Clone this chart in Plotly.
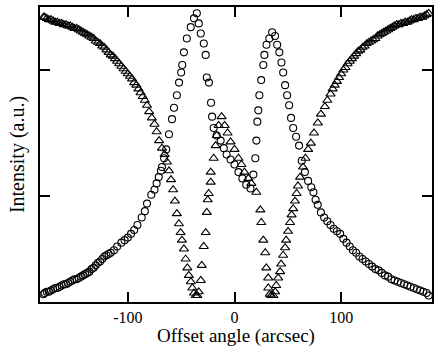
import plotly.graph_objects as go

# Circle series (offset angle in arcsec, intensity in a.u.)
circ_x = [-179, -178, -176, -174, -172, -170, -168, -166, -164, -162,
          -160, -158, -156, -154, -152, -150, -148, -146, -144, -142,
          -140, -138, -136, -134, -132, -130, -128, -126, -124, -122,
          -120, -118, -116, -113, -110, -106, -103, -100, -97, -94,
          -91, -87, -84, -82, -78, -75, -73, -71, -69, -68,
          -66, -64, -61.4, -58.6, -56.7, -54, -52, -50, -49, -47.4,
          -44.7, -41, -38, -35.3, -33.5, -31.6, -28.8, -27, -26, -24,
          -22, -21, -19.5, -16.7, -13, -10, -7.4, -3.7, 0, 3.7,
          7.4, 11, 15, 17.7, 19.5, 20.5, 21.4, 22.3, 23.3, 25,
          27, 28, 30, 32.6, 35.3, 38, 40, 42, 44, 45.6,
          47.4, 49.3, 51.2, 53, 55, 57.7, 60.5, 63, 66, 69,
          72, 74, 76, 78, 81, 84, 87, 90, 93, 96,
          99, 102, 105, 108, 111, 114, 117, 120, 123, 126,
          129, 132, 135, 138, 141, 144, 147, 150, 153, 156,
          159, 162, 165, 168, 171, 174, 177, 180, 182]
circ_y = [0.22, 0.23, 0.24, 0.24, 0.25, 0.26, 0.27, 0.27, 0.28, 0.29,
          0.30, 0.30, 0.31, 0.32, 0.33, 0.34, 0.34, 0.35, 0.36, 0.37,
          0.38, 0.39, 0.40, 0.42, 0.43, 0.45, 0.47, 0.48, 0.50, 0.52,
          0.53, 0.54, 0.55, 0.57, 0.60, 0.63, 0.65, 0.67, 0.70, 0.73,
          0.77, 0.83, 0.88, 0.94, 1.01, 1.05, 1.10, 1.15, 1.20, 1.23,
          1.30, 1.37, 1.49, 1.61, 1.70, 1.80, 1.90, 1.98, 2.04, 2.14,
          2.25, 2.34, 2.41, 2.45, 2.37, 2.29, 2.21, 2.12, 1.94, 1.90,
          1.74, 1.63, 1.54, 1.48, 1.44, 1.38, 1.33, 1.29, 1.25, 1.19,
          1.14, 1.09, 1.06, 1.17, 1.30, 1.44, 1.59, 1.68, 1.80, 1.92,
          2.04, 2.12, 2.20, 2.25, 2.30, 2.27, 2.20, 2.14, 2.06, 1.98,
          1.88, 1.80, 1.72, 1.62, 1.54, 1.47, 1.40, 1.28, 1.19, 1.12,
          1.07, 1.03, 0.97, 0.93, 0.87, 0.83, 0.80, 0.77, 0.74, 0.72,
          0.70, 0.66, 0.63, 0.60, 0.57, 0.55, 0.52, 0.50, 0.48, 0.46,
          0.44, 0.42, 0.41, 0.39, 0.37, 0.36, 0.34, 0.33, 0.32, 0.31,
          0.30, 0.29, 0.28, 0.27, 0.26, 0.25, 0.24, 0.23, 0.21]

# Triangle series
tri_x = [-179, -178, -176, -174, -172, -170, -168, -166, -164, -162,
         -160, -158, -156, -154, -152, -150, -148, -146, -144, -142,
         -140, -138, -136, -134, -132, -130, -128, -126, -124, -122,
         -120, -118, -116, -114, -112, -110, -108, -106, -104, -102,
         -100, -98, -96, -94, -92, -90, -88, -86, -84, -82,
         -80, -77.5, -75, -73, -70.7, -68, -65.5, -63.3, -61.4, -59.5,
         -57.5, -55.8, -54, -52.1, -50.5, -49.3, -47.4, -45.8, -44.2, -42.8,
         -40.9, -39.5, -38, -36.3, -34.8, -33.5, -31.6, -30.7, -28.8, -27,
         -26, -25.1, -24.2, -22.3, -22.3, -19.5, -17.7, -16.7, -14.9, -12.1,
         -9.3, -6.5, -3.7, 0, 3.7, 6.5, 9.3, 13, 15.8, 20.5,
         24.2, 25.1, 27, 28.8, 29.8, 31.6, 31.6, 33, 34.4, 36.5,
         38.1, 39.1, 40.9, 42.8, 43.7, 45.6, 47.4, 48.4, 50.2, 52.1,
         53.5, 55, 56.7, 58.2, 59.5, 61.5, 64.2, 66.5, 69, 71.6,
         74.5, 78.1, 81, 84.7, 87, 90, 92, 94, 96, 98,
         100, 102, 104, 106, 108, 110, 112, 114, 116, 118,
         120, 122, 124, 126, 128, 130, 132, 134, 136, 138,
         140, 142, 144, 146, 148, 150, 152, 154, 156, 158,
         160, 162, 164, 166, 168, 170, 172, 174, 176, 178,
         180, 182]
tri_y = [2.42, 2.42, 2.41, 2.40, 2.40, 2.39, 2.38, 2.38, 2.37, 2.37,
         2.36, 2.36, 2.35, 2.35, 2.34, 2.33, 2.33, 2.32, 2.31, 2.30,
         2.29, 2.28, 2.27, 2.26, 2.25, 2.23, 2.22, 2.21, 2.19, 2.18,
         2.16, 2.14, 2.12, 2.11, 2.09, 2.07, 2.05, 2.03, 2.01, 1.99,
         1.97, 1.95, 1.93, 1.90, 1.88, 1.85, 1.82, 1.79, 1.76, 1.72,
         1.67, 1.62, 1.57, 1.51, 1.44, 1.38, 1.33, 1.27, 1.20, 1.13,
         1.05, 0.96, 0.86, 0.78, 0.71, 0.65, 0.58, 0.50, 0.43, 0.37,
         0.32, 0.27, 0.23, 0.21, 0.21, 0.24, 0.33, 0.45, 0.60, 0.71,
         0.87, 0.97, 1.02, 1.11, 1.19, 1.30, 1.40, 1.48, 1.56, 1.63,
         1.56, 1.50, 1.43, 1.37, 1.30, 1.25, 1.19, 1.14, 1.10, 1.03,
         0.89, 0.79, 0.65, 0.55, 0.43, 0.35, 0.27, 0.22, 0.21, 0.21,
         0.24, 0.29, 0.35, 0.40, 0.46, 0.53, 0.59, 0.65, 0.72, 0.79,
         0.85, 0.90, 0.96, 1.02, 1.08, 1.15, 1.23, 1.30, 1.37, 1.42,
         1.50, 1.58, 1.65, 1.71, 1.76, 1.81, 1.85, 1.88, 1.91, 1.94,
         1.97, 2.00, 2.02, 2.05, 2.07, 2.09, 2.11, 2.13, 2.15, 2.16,
         2.18, 2.19, 2.21, 2.22, 2.23, 2.24, 2.25, 2.27, 2.28, 2.29,
         2.30, 2.31, 2.32, 2.33, 2.34, 2.35, 2.36, 2.36, 2.37, 2.37,
         2.38, 2.38, 2.39, 2.40, 2.40, 2.41, 2.41, 2.42, 2.42, 2.43,
         2.44, 2.45]

x_ticks = [-100, 0, 100]
x_tick_text = ["-100", "0", "100"]
y_ticks = [1, 2]

serif = "Liberation Serif, Times New Roman, serif"
ink = "black"

fig = go.Figure()
fig.add_trace(go.Scatter(
    x=circ_x, y=circ_y, mode="markers", name="circles",
    marker=dict(symbol="circle-open", size=7, color=ink, line=dict(width=1.1, color=ink)),
))
fig.add_trace(go.Scatter(
    x=tri_x, y=tri_y, mode="markers", name="triangles",
    marker=dict(symbol="triangle-up-open", size=8, color=ink, line=dict(width=1.1, color=ink)),
))

fig.update_layout(
    width=435, height=347,
    margin=dict(l=40, r=1, t=7, b=45),
    paper_bgcolor="white", plot_bgcolor="white",
    showlegend=False,
    font=dict(family=serif, size=16, color="black"),
)
fig.update_xaxes(
    range=[-182.3, 185.1],
    tickvals=x_ticks, ticktext=x_tick_text,
    ticks="inside", ticklen=10, tickwidth=1.5, tickcolor="black",
    showline=True, linewidth=2, linecolor="black", mirror="ticks",
    showgrid=False, zeroline=False,
    tickfont=dict(family=serif, size=16),
    title=dict(text="Offset angle (arcsec)", font=dict(family=serif, size=19), standoff=1),
)
fig.update_yaxes(
    range=[0.159, 2.5],
    tickvals=y_ticks, showticklabels=False,
    ticks="inside", ticklen=10, tickwidth=1.5, tickcolor="black",
    showline=True, linewidth=2, linecolor="black", mirror="ticks",
    showgrid=False, zeroline=False,
    title=dict(text="Intensity (a.u.)", font=dict(family=serif, size=20), standoff=8),
)

fig.write_html("out.html", config={"displayModeBar": False},
               post_script="document.body.style.margin='0';")
